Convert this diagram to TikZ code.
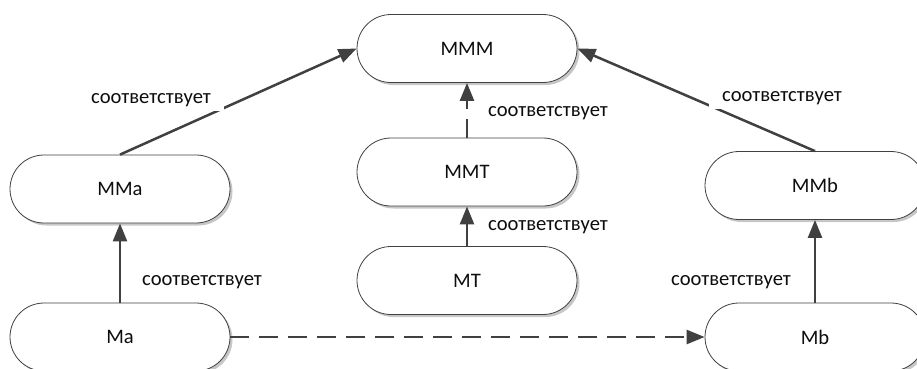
\documentclass[tikz,border=0pt]{standalone}
\usepackage{fontspec}
\setmainfont{Carlito}
\usetikzlibrary{arrows.meta,shadows}
\definecolor{edgegray}{HTML}{404040}
\definecolor{inkgray}{HTML}{0D0D0D}
\begin{document}
\begin{tikzpicture}[x=1pt,y=-1pt,
  font=\fontsize{20.6}{24}\selectfont,
  pill/.style={draw=edgegray, line width=0.8pt, fill=white,
    rectangle, rounded corners=34pt,
    minimum width=220pt, minimum height=68pt, inner sep=0pt,
    text=inkgray,
    drop shadow={shadow xshift=2.5pt, shadow yshift=-2.5pt,
      fill=black!22, opacity=1}},
  link/.style={draw=edgegray, line width=2.5pt,
    -{Triangle[length=18pt,width=14pt]}},
  dashlink/.style={link, dash pattern=on 19pt off 10pt},
  tag/.style={text=inkgray, fill=white, inner xsep=13pt, inner ysep=4pt}]
\useasboundingbox (0,0) rectangle (917,368);

% model boxes
\node[pill] (mmm) at (467,48.5) {МММ};
\node[pill] (mma) at (120,189) {MMa};
\node[pill] (ma)  at (120,337) {Ma};
\node[pill] (mmt) at (467,172) {MMT};
\node[pill] (mt)  at (467,280.5) {MT};
\node[pill] (mmb) at (815,185.5) {MMb};
\node[pill] (mb)  at (815,337) {Mb};

% correspondences
\draw[link] (mma.north) -- (mmm.west);
\draw[link] (mmb.north) -- (mmm.east);
\draw[dashlink] (mmt.north) -- (mmm.south);
\draw[link] (mt.north) -- (mmt.south);
\draw[link] (ma.north) -- (mma.south);
\draw[link] (mb.north) -- (mmb.south);
\draw[dashlink] (ma.east) -- (mb.west);

% labels, their white boxes break the diagonal lines
\node[tag] (t1) at (151,100) {соответствует};
\node[tag] (t2) at (782,98) {соответствует};
\node[tag] (t3) at (548,113) {соответствует};
\node[tag] (t4) at (548,227) {соответствует};
\node[tag] (t5) at (202,282) {соответствует};
\node[tag] (t6) at (731,282) {соответствует};
\end{tikzpicture}
\end{document}
